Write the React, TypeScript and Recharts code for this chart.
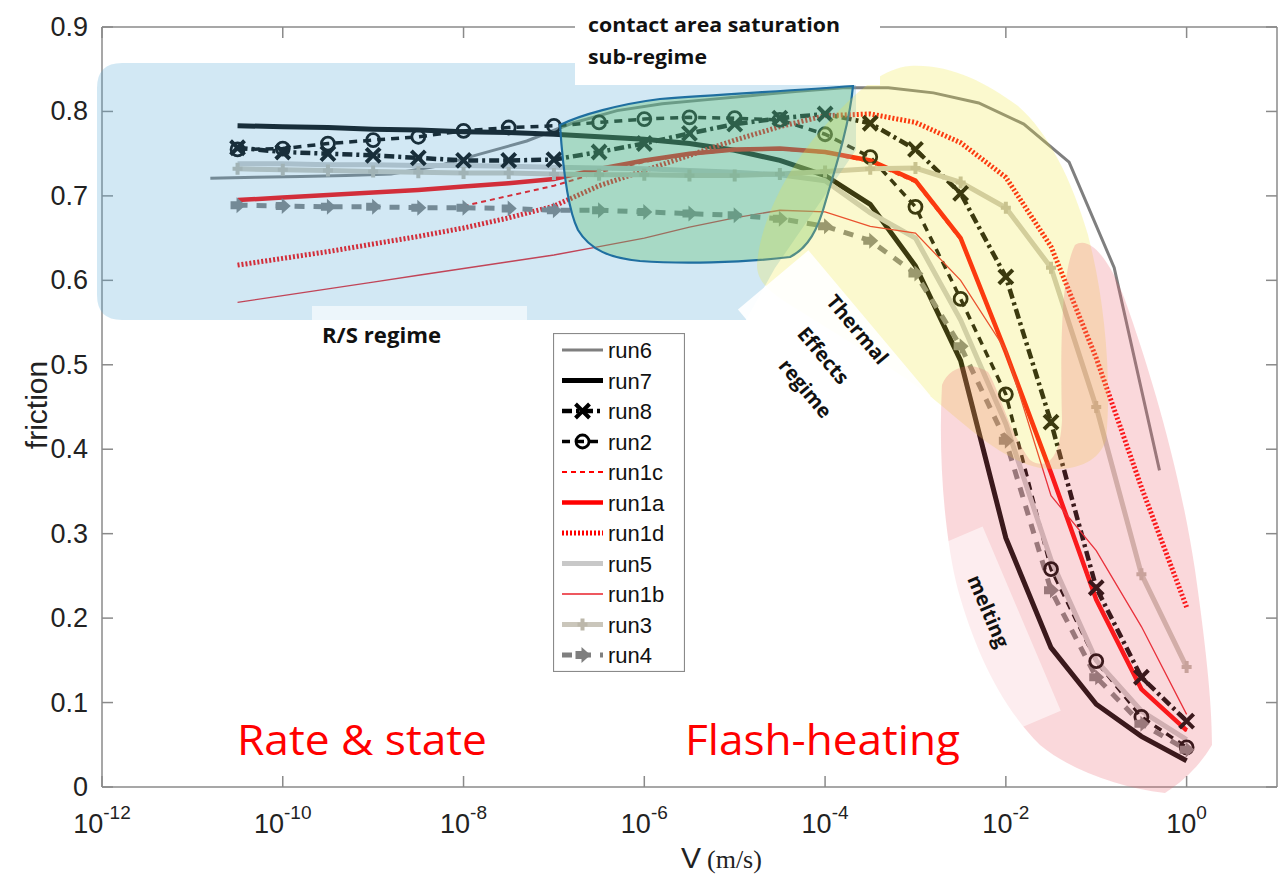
import { LineChart, Line, XAxis, YAxis, Legend } from "recharts";

// sliding velocity (m/s), half-decade grid used by most runs
const V = [3.16e-11, 1e-10, 3.16e-10, 1e-9, 3.16e-9, 1e-8, 3.16e-8, 1e-7, 3.16e-7, 1e-6, 3.16e-6, 1e-5, 3.16e-5, 1e-4, 3.16e-4, 1e-3, 3.16e-3, 1e-2, 3.16e-2, 0.1, 0.316, 1];
// run6 was sampled on a shifted grid
const V6 = [1.58e-11, 5.01e-11, 1.58e-10, 5.01e-10, 1.58e-9, 5.01e-9, 1.58e-8, 5.01e-8, 1.58e-7, 5.01e-7, 1.58e-6, 5.01e-6, 1.58e-5, 5.01e-5, 1.58e-4, 5.01e-4, 1.58e-3, 5.01e-3, 1.58e-2, 5.01e-2, 0.158, 0.501];
const V1c = [1e-8, 3.16e-8, 1e-7, 3.16e-7, 1e-6, 3.16e-6, 1e-5, 3.16e-5, 1e-4, 3.16e-4, 1e-3, 3.16e-3, 1e-2, 3.16e-2, 0.1, 0.316, 1];

const run6 = [0.721, 0.722, 0.723, 0.724, 0.726, 0.735, 0.75, 0.765, 0.786, 0.801, 0.809, 0.814, 0.819, 0.824, 0.828, 0.828, 0.822, 0.81, 0.785, 0.74, 0.615, 0.375];
const run7 = [0.783, 0.782, 0.781, 0.779, 0.778, 0.776, 0.775, 0.773, 0.77, 0.767, 0.762, 0.754, 0.742, 0.724, 0.69, 0.617, 0.505, 0.295, 0.165, 0.098, 0.06, 0.031];
const run8 = [0.757, 0.752, 0.75, 0.748, 0.745, 0.742, 0.742, 0.743, 0.752, 0.762, 0.774, 0.785, 0.792, 0.797, 0.786, 0.755, 0.703, 0.604, 0.432, 0.236, 0.13, 0.078];
const run2 = [0.755, 0.756, 0.762, 0.766, 0.77, 0.777, 0.781, 0.783, 0.787, 0.791, 0.793, 0.792, 0.79, 0.773, 0.746, 0.687, 0.578, 0.465, 0.258, 0.149, 0.083, 0.047];
const run1c = [0.688, 0.7, 0.712, 0.728, 0.74, 0.749, 0.754, 0.755, 0.751, 0.74, 0.716, 0.648, 0.513, 0.37, 0.22, 0.115, 0.066];
const run1a = [0.695, 0.698, 0.701, 0.704, 0.707, 0.711, 0.715, 0.72, 0.732, 0.742, 0.75, 0.755, 0.756, 0.752, 0.742, 0.718, 0.65, 0.515, 0.372, 0.222, 0.116, 0.067];
const run1d = [0.618, 0.626, 0.634, 0.643, 0.652, 0.662, 0.674, 0.688, 0.712, 0.73, 0.748, 0.766, 0.782, 0.795, 0.797, 0.787, 0.763, 0.722, 0.64, 0.508, 0.355, 0.213];
const run5 = [0.738, 0.738, 0.737, 0.737, 0.736, 0.736, 0.735, 0.734, 0.733, 0.732, 0.73, 0.728, 0.725, 0.718, 0.68, 0.65, 0.553, 0.43, 0.269, 0.15, 0.09, 0.056];
const run1b = [0.574, 0.582, 0.59, 0.598, 0.606, 0.614, 0.622, 0.63, 0.64, 0.65, 0.663, 0.674, 0.683, 0.681, 0.664, 0.656, 0.6, 0.517, 0.345, 0.28, 0.19, 0.086];
const run3 = [0.732, 0.731, 0.73, 0.729, 0.728, 0.727, 0.727, 0.726, 0.725, 0.725, 0.724, 0.724, 0.726, 0.729, 0.732, 0.733, 0.716, 0.686, 0.615, 0.45, 0.252, 0.142];
const run4 = [0.689, 0.688, 0.687, 0.687, 0.686, 0.686, 0.685, 0.683, 0.683, 0.681, 0.679, 0.677, 0.673, 0.664, 0.647, 0.608, 0.522, 0.41, 0.233, 0.13, 0.075, 0.044];

const xTicks = [1e-12, 1e-10, 1e-8, 1e-6, 1e-4, 1e-2, 1];
const yTicks = [0, 0.1, 0.2, 0.3, 0.4, 0.5, 0.6, 0.7, 0.8, 0.9];

const zip = (v: number[], f: number[]) => v.map((x, i) => ({ v: x, f: f[i] }));

type Marker = "x" | "o" | "plus" | "arrow" | undefined;
const series: { name: string; data: { v: number; f: number }[]; color: string; width: number; dash?: string; marker?: Marker }[] = [
  { name: "run6", data: zip(V6, run6), color: "#7f7f7f", width: 3 },
  { name: "run7", data: zip(V, run7), color: "#000000", width: 5 },
  { name: "run8", data: zip(V, run8), color: "#000000", width: 4.5, dash: "10 4 3 4", marker: "x" },
  { name: "run2", data: zip(V, run2), color: "#000000", width: 3.5, dash: "8 6", marker: "o" },
  { name: "run1c", data: zip(V1c, run1c), color: "#ff0000", width: 2, dash: "5 4" },
  { name: "run1a", data: zip(V, run1a), color: "#ff0000", width: 4.5 },
  { name: "run1d", data: zip(V, run1d), color: "#ff0000", width: 5, dash: "2 2" },
  { name: "run5", data: zip(V, run5), color: "#c8c8c8", width: 5 },
  { name: "run1b", data: zip(V, run1b), color: "#e8202a", width: 1.3 },
  { name: "run3", data: zip(V, run3), color: "#cac6bb", width: 5, marker: "plus" },
  { name: "run4", data: zip(V, run4), color: "#7f7f7f", width: 5, dash: "10 9", marker: "arrow" },
];

const AX = "#8a8a8a";
const FONT = "'Liberation Sans', Arial, sans-serif";
const ANN = "'Open Sans', 'Noto Sans', sans-serif";

function drawMarker(kind: Marker, cx: number, cy: number, color: string, key?: any) {
  if (kind === "x")
    return <path key={key} d={`M${cx - 7},${cy - 7}L${cx + 7},${cy + 7}M${cx - 7},${cy + 7}L${cx + 7},${cy - 7}`} stroke="#000" strokeWidth={4} fill="none" />;
  if (kind === "o") return <circle key={key} cx={cx} cy={cy} r={6.5} stroke="#000" strokeWidth={2.8} fill="none" />;
  if (kind === "plus")
    return <path key={key} d={`M${cx - 5},${cy}L${cx + 5},${cy}M${cx},${cy - 6}L${cx},${cy + 6}`} stroke="#bcb7aa" strokeWidth={4} fill="none" />;
  if (kind === "arrow")
    return (
      <path key={key} d={`M${cx - 7},${cy - 4}L${cx - 1},${cy - 4}L${cx - 1},${cy - 8}L${cx + 8},${cy}L${cx - 1},${cy + 8}L${cx - 1},${cy + 4}L${cx - 7},${cy + 4}Z`} fill={color} />
    );
  return <g key={key} />;
}

const dotFor = (kind: Marker, color: string) => (p: any) => {
  if (p.cx == null || p.cy == null) return <g key={p.index} />;
  return drawMarker(kind, p.cx, p.cy, color, p.index);
};

const BottomTick = (p: any) => {
  const exp = Math.round(Math.log10(p.payload.value));
  return (
    <g>
      <line x1={p.x} x2={p.x} y1={p.y - 8} y2={p.y - 19} stroke={AX} strokeWidth={1.5} />
      <text x={p.x} y={p.y + 38} textAnchor="middle" fontFamily={FONT} fill="#222">
        <tspan fontSize={27}>10</tspan>
        <tspan fontSize={19} dy={-14}>{exp}</tspan>
      </text>
    </g>
  );
};

const LeftTick = (p: any) => (
  <g>
    <line x1={p.x + 10} x2={p.x + 21} y1={p.y} y2={p.y} stroke={AX} strokeWidth={1.5} />
    <text x={p.x - 4} y={p.y + 9} textAnchor="end" fontSize={27} fontFamily={FONT} fill="#222">
      {p.payload.value === 0 ? "0" : p.payload.value.toFixed(1)}
    </text>
  </g>
);

const TopTick = (p: any) => <line x1={p.x} x2={p.x} y1={p.y} y2={p.y + 11} stroke={AX} strokeWidth={1.5} />;
const RightTick = (p: any) => <line x1={p.x} x2={p.x - 11} y1={p.y} y2={p.y} stroke={AX} strokeWidth={1.5} />;

function LegendBox() {
  return (
    <svg width={132} height={339} style={{ display: "block" }}>
      <rect x={0.5} y={0.5} width={131} height={338} fill="#fff" stroke={AX} strokeWidth={1.2} />
      {series.map((s, i) => {
        const y = 17 + i * 30.5;
        return (
          <g key={s.name}>
            <line x1={9} x2={50} y1={y} y2={y} stroke={s.color} strokeWidth={s.width} strokeDasharray={s.dash} />
            {s.marker && drawMarker(s.marker, 29.5, y, s.color)}
            <text x={55} y={y + 8} fontSize={22} fontFamily={FONT} fill="#111">
              {s.name}
            </text>
          </g>
        );
      })}
    </svg>
  );
}

function Overlay() {
  return (
    <svg width={1282} height={879} style={{ position: "absolute", left: 0, top: 0, pointerEvents: "none" }}>
      {/* regime shading */}
      <path d="M97,88 Q97,63 122,63 L856,63 L856,150 L775,268 L746,320 L122,320 Q97,320 97,295 Z" fill="rgba(90,170,215,0.27)" />
      <path
        d="M560,125 C580,115 620,104 660,99 C720,94 790,91 853,86 C850,120 838,160 826,200 C818,230 808,248 790,257 C740,263 680,264 640,261 C610,258 590,250 578,230 C568,210 563,170 560,125 Z"
        fill="rgba(90,190,110,0.35)"
        stroke="#1f6fa0"
        strokeWidth={2.2}
      />
      <path
        d="M757,265 C760,220 790,160 835,115 C860,88 885,68 910,66 C950,64 985,82 1018,106 C1048,132 1072,180 1088,235 C1105,300 1112,380 1106,440 C1098,465 1070,472 1040,468 C1000,460 960,420 925,392 C880,360 830,330 790,305 C770,292 757,282 757,265 Z"
        fill="rgba(240,230,60,0.25)"
      />
      <path
        d="M942,385 C948,368 970,360 988,372 C1000,392 1008,430 1030,460 C1045,470 1060,462 1062,420 C1060,340 1062,270 1075,245 C1090,235 1110,260 1125,300 C1150,370 1180,470 1195,570 C1205,640 1212,700 1212,745 C1200,765 1185,780 1165,793 C1120,788 1070,770 1040,745 C1000,705 975,650 958,590 C945,540 938,460 942,385 Z"
        fill="rgba(235,100,110,0.25)"
      />

      {/* label boxes */}
      <rect x={575} y={4} width={305} height={81} fill="#fff" />
      <rect x={312} y={306} width={215} height={16} fill="rgba(255,255,255,0.6)" />
      <rect x={-95} y={-45} width={190} height={92} transform="translate(835,352) rotate(50)" fill="rgba(255,255,255,0.92)" />
      <rect x={-100} y={-29} width={200} height={58} transform="translate(995,630) rotate(67)" fill="rgba(255,255,255,0.55)" />

      <g fontFamily={ANN} fontWeight={700} fill="#111">
        <text x={588} y={32} fontSize={20} textLength={252} lengthAdjust="spacingAndGlyphs">contact area saturation</text>
        <text x={588} y={64} fontSize={20} textLength={119} lengthAdjust="spacingAndGlyphs">sub-regime</text>
        <text x={322} y={343} fontSize={21} textLength={119} lengthAdjust="spacingAndGlyphs">R/S regime</text>
        <text x={0} y={0} fontSize={20} textAnchor="middle" transform="translate(852,334) rotate(50)">Thermal</text>
        <text x={0} y={0} fontSize={20} textAnchor="middle" transform="translate(818,360) rotate(50)">Effects</text>
        <text x={0} y={0} fontSize={20} textAnchor="middle" transform="translate(800,393) rotate(50)">regime</text>
        <text x={0} y={0} fontSize={20} textAnchor="middle" transform="translate(982,614) rotate(67)">melting</text>
      </g>
      <g fontFamily={ANN} fill="#ff0000">
        <text x={237} y={755} fontSize={42} textLength={250} lengthAdjust="spacingAndGlyphs">Rate &amp; state</text>
        <text x={685} y={755} fontSize={42} textLength={275} lengthAdjust="spacingAndGlyphs">Flash-heating</text>
      </g>
    </svg>
  );
}

export default function App() {
  return (
    <div style={{ position: "relative", width: 1282, height: 879, background: "#fff" }}>
      <style>{"body{margin:0}"}</style>
      <LineChart width={1282} height={879} margin={{ top: 26, right: 4, bottom: 32, left: 42 }}>
        <XAxis
          dataKey="v"
          type="number"
          scale="log"
          domain={[1e-12, 10]}
          allowDataOverflow
          ticks={xTicks}
          interval={0}
          height={60}
          tickSize={0}
          tickMargin={8}
          tickLine={false}
          axisLine={{ stroke: AX, strokeWidth: 1.5 }}
          tick={BottomTick}
          label={{
            content: () => (
              <text x={681} y={868} fill="#222">
                <tspan fontFamily={FONT} fontSize={30}>V</tspan>
                <tspan fontFamily="'Liberation Serif', serif" fontSize={26} dx={6}>(m/s)</tspan>
              </text>
            ),
          }}
        />
        <XAxis
          xAxisId="top"
          orientation="top"
          dataKey="v"
          type="number"
          scale="log"
          domain={[1e-12, 10]}
          allowDataOverflow
          ticks={xTicks}
          interval={0}
          height={1}
          tickSize={0}
          tickMargin={0}
          tickLine={false}
          axisLine={{ stroke: AX, strokeWidth: 1.5 }}
          tick={TopTick}
        />
        <YAxis
          type="number"
          domain={[0, 0.9]}
          allowDataOverflow
          ticks={yTicks}
          interval={0}
          width={60}
          tickSize={0}
          tickMargin={10}
          tickLine={false}
          axisLine={{ stroke: AX, strokeWidth: 1.5 }}
          tick={LeftTick}
          label={{
            content: () => (
              <text x={47} y={405} transform="rotate(-90 47 405)" textAnchor="middle" fontSize={30} fontFamily={FONT} fill="#222">
                friction
              </text>
            ),
          }}
        />
        <YAxis
          yAxisId="right"
          orientation="right"
          type="number"
          domain={[0, 0.9]}
          allowDataOverflow
          ticks={yTicks}
          interval={0}
          width={1}
          tickSize={0}
          tickMargin={0}
          tickLine={false}
          axisLine={{ stroke: AX, strokeWidth: 1.5 }}
          tick={RightTick}
        />
        <Legend
          layout="vertical"
          align="center"
          verticalAlign="middle"
          content={() => <LegendBox />}
          wrapperStyle={{ position: "absolute", left: 553, top: 333, width: 132, height: 339 }}
        />
        {series.map((s) => (
          <Line
            key={s.name}
            name={s.name}
            data={s.data}
            dataKey="f"
            type="linear"
            stroke={s.color}
            strokeWidth={s.width}
            strokeDasharray={s.dash}
            dot={s.marker ? dotFor(s.marker, s.color) : false}
            activeDot={false}
            isAnimationActive={false}
          />
        ))}
      </LineChart>
      <Overlay />
    </div>
  );
}
